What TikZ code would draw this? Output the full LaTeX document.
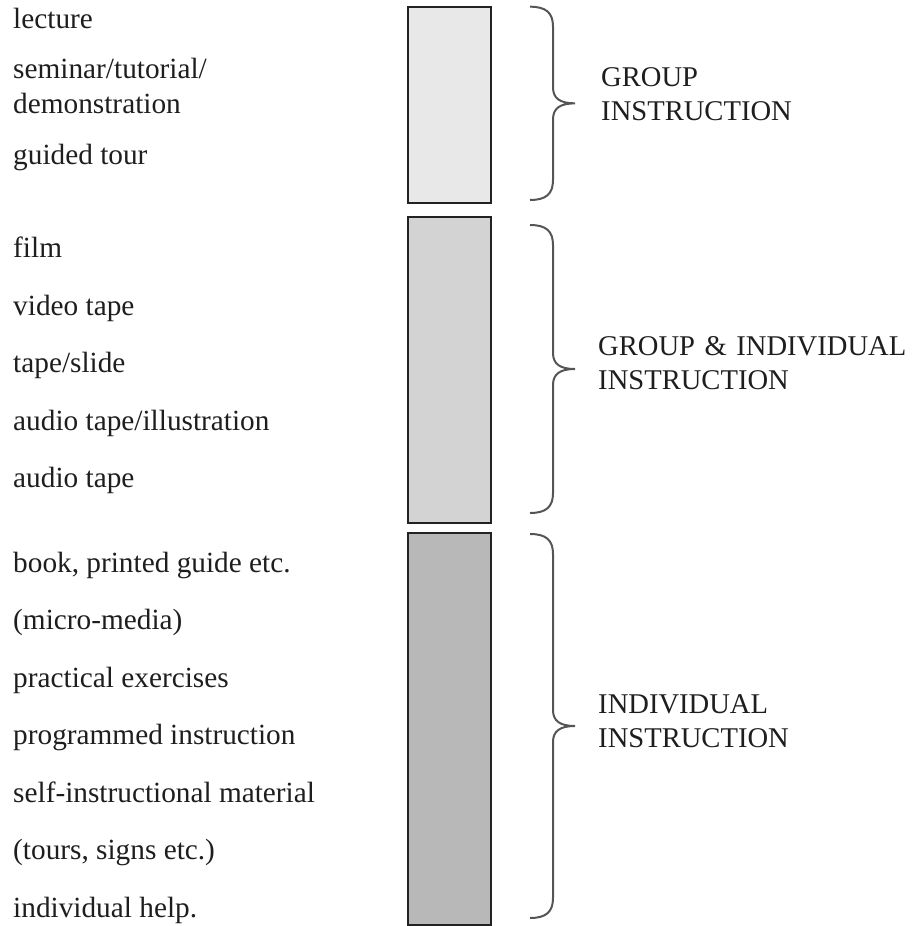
\documentclass[tikz,border=0pt]{standalone}
\usepackage{fontspec}
\setmainfont{Liberation Serif}

\definecolor{txt}{HTML}{1E1E1E}
\definecolor{edge}{HTML}{222222}
\definecolor{shadeA}{HTML}{E8E8E8}
\definecolor{shadeB}{HTML}{D3D3D3}
\definecolor{shadeC}{HTML}{B8B8B8}
\definecolor{bracecol}{HTML}{555555}

\begin{document}
\begin{tikzpicture}[x=0.03cm,y=-0.03cm,
   item/.style={anchor=base west,inner sep=0pt,text=txt,font=\fontsize{25}{29.5}\selectfont},
   heading/.style={item,align=left,text width=10cm,font=\fontsize{24.4}{29.5}\selectfont},
   box/.style={draw=edge,line width=1.7pt},
   curly/.style={draw=bracecol,line width=1.7pt}]
   \useasboundingbox (0,0) rectangle (915,926);

   \node[item] (lecture) at (13,29) {lecture};
   \node[item,align=left,text width=10cm] (seminar) at (13,79) {seminar/tutorial/\\demonstration};
   \node[item] (guided) at (13,164) {guided tour};

   \node[item] (film) at (13,257) {film};
   \node[item] (video) at (13,315) {video tape};
   \node[item] (slide) at (13,372) {tape/slide};
   \node[item] (illus) at (13,430) {audio tape/illustration};
   \node[item] (audio) at (13,487) {audio tape};

   \node[item] (book) at (13,572) {book, printed guide etc.};
   \node[item] (micro) at (13,629) {(micro-media)};
   \node[item] (practical) at (13,687) {practical exercises};
   \node[item] (programmed) at (13,744) {programmed instruction};
   \node[item] (selfinstr) at (13,802) {self-instructional material};
   \node[item] (tours) at (13,859) {(tours, signs etc.)};
   \node[item] (help) at (13,917) {individual help.};

   \draw[box,fill=shadeA] (407.7,6.7) rectangle (491,203);
   \draw[box,fill=shadeB] (407.7,216.7) rectangle (491,522.7);
   \draw[box,fill=shadeC] (407.7,533.3) rectangle (491,925);

   \foreach \t/\b in {6.7/200,225/513,534/918}{
      \pgfmathsetmacro\m{(\t+\b)/2}
      \draw[curly] (530,\t) .. controls (546,\t) and (553,\t+6) .. (553,\t+20)
         -- (553,\m-16) .. controls (553,\m-5) and (560,\m) .. (575,\m)
         .. controls (560,\m) and (553,\m+5) .. (553,\m+16)
         -- (553,\b-20) .. controls (553,\b-6) and (546,\b) .. (530,\b);
   }

   \node[heading] (grouplbl) at (601,86) {GROUP\\INSTRUCTION};
   \node[heading] (bothlbl) at (598,355) {GROUP \& INDIVIDUAL\\INSTRUCTION};
   \node[heading] (indivlbl) at (598,713) {INDIVIDUAL\\INSTRUCTION};
\end{tikzpicture}
\end{document}
